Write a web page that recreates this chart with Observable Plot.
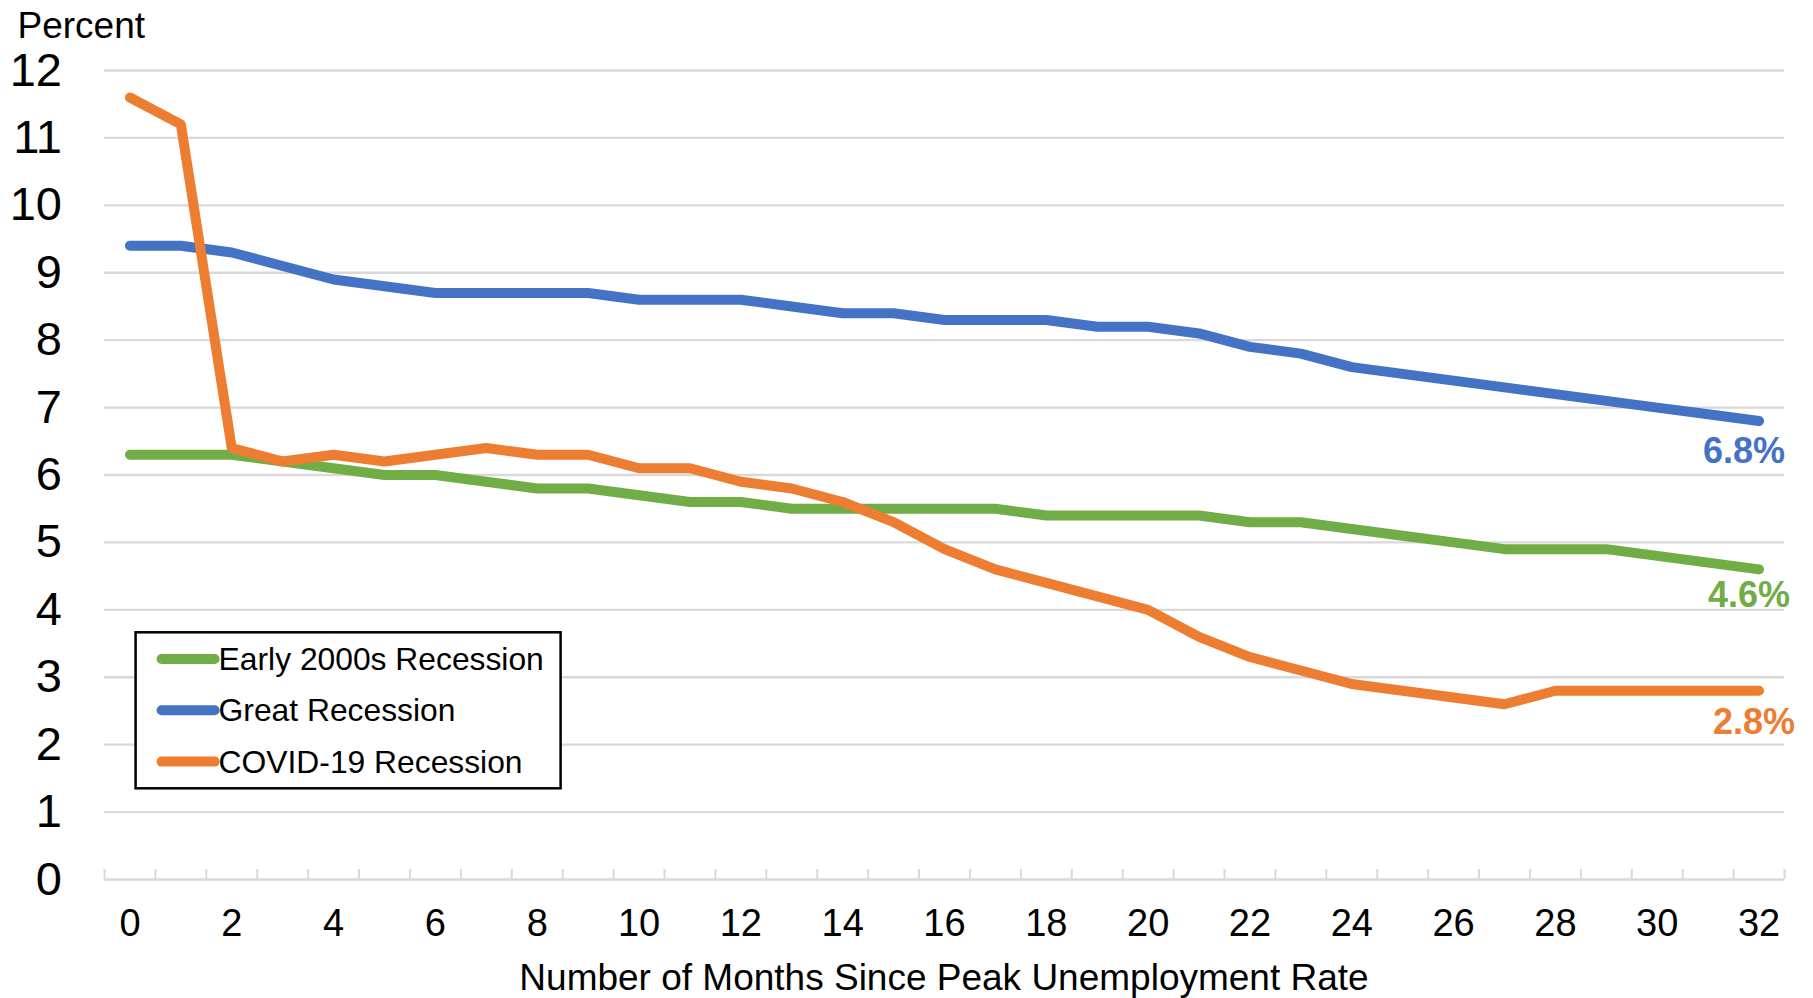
<!DOCTYPE html>
<html><head><meta charset="utf-8">
<script src="https://cdn.jsdelivr.net/npm/d3@7"></script>
<script src="https://cdn.jsdelivr.net/npm/@observablehq/plot@0.6"></script>
<style>
html,body{margin:0;padding:0;background:#fff;}
#wrap{position:relative;width:1813px;height:998px;}
</style></head><body><div id="wrap"></div>
<script>
// ---- data ----
const months = [0,1,2,3,4,5,6,7,8,9,10,11,12,13,14,15,16,17,18,19,20,21,22,23,24,25,26,27,28,29,30,31,32];
const early2000s = [6.3,6.3,6.3,6.2,6.1,6.0,6.0,5.9,5.8,5.8,5.7,5.6,5.6,5.5,5.5,5.5,5.5,5.5,5.4,5.4,5.4,5.4,5.3,5.3,5.2,5.1,5.0,4.9,4.9,4.9,4.8,4.7,4.6];
const greatRecession = [9.4,9.4,9.3,9.1,8.9,8.8,8.7,8.7,8.7,8.7,8.6,8.6,8.6,8.5,8.4,8.4,8.3,8.3,8.3,8.2,8.2,8.1,7.9,7.8,7.6,7.5,7.4,7.3,7.2,7.1,7.0,6.9,6.8];
const covid19 = [11.6,11.2,6.4,6.2,6.3,6.2,6.3,6.4,6.3,6.3,6.1,6.1,5.9,5.8,5.6,5.3,4.9,4.6,4.4,4.2,4.0,3.6,3.3,3.1,2.9,2.8,2.7,2.6,2.8,2.8,2.8,2.8,2.8];
const seriesNames = ["Early 2000s Recession","Great Recession","COVID-19 Recession"];
const seriesColors = ["#70AD47","#4472C4","#ED7D31"];
const endLabels = ["4.6%","6.8%","2.8%"];
const yTicks = [0,1,2,3,4,5,6,7,8,9,10,11,12];
const xTicks = [0,2,4,6,8,10,12,14,16,18,20,22,24,26,28,30,32];
const yTitle = "Percent";
const xTitle = "Number of Months Since Peak Unemployment Rate";

// ---- build table ----
const seriesValues = [early2000s, greatRecession, covid19];
const rows = seriesNames.flatMap((s, i) => months.map((m, j) => ({series: s, month: m, value: seriesValues[i][j]})));
const boundaries = months.map(m => m - 0.5).concat([months[months.length - 1] + 0.5]);
const lastRows = seriesNames.map((s, i) => ({series: s, month: months[months.length - 1], value: seriesValues[i][months.length - 1], label: endLabels[i]}));

// ---- styling ----
const FONT = "Liberation Sans, Arial, sans-serif";
const labelOffsets = [{dx: 31, dy: 26}, {dx: 26, dy: 30}, {dx: 36, dy: 32}];
const W = 1813, H = 998;
const M = {left: 104, right: 29, top: 70, bottom: 119};

const chart = Plot.plot({
  width: W, height: H,
  marginLeft: M.left, marginRight: M.right, marginTop: M.top, marginBottom: M.bottom,
  x: {domain: [boundaries[0], boundaries[boundaries.length - 1]]},
  y: {domain: [yTicks[0], yTicks[yTicks.length - 1]]},
  color: {domain: seriesNames, range: seriesColors},
  style: {fontFamily: FONT, background: "#fff", color: "#000"},
  marks: [
    Plot.gridY(yTicks.slice(1), {stroke: "#d9d9d9", strokeOpacity: 1, strokeWidth: 2.3}),
    Plot.ruleY([0], {stroke: "#d9d9d9", strokeWidth: 2.5}),
    Plot.ruleX(boundaries, {x: d => d, y1: 0, y2: 0.15, stroke: "#d9d9d9", strokeWidth: 2}),
    Plot.axisY({ticks: yTicks, tickSize: 0, tickPadding: 42.5, fontSize: 47, tickFormat: d => String(d), label: null}),
    Plot.axisX({ticks: xTicks, tickSize: 0, tickPadding: 30, fontSize: 38, tickFormat: d => String(d), label: null}),
    Plot.line(rows, {x: "month", y: "value", stroke: "series", strokeWidth: 10, strokeLinecap: "round", strokeLinejoin: "round"}),
    ...lastRows.map((r, i) => Plot.text([r], {x: "month", y: "value", text: "label", fill: seriesColors[i], fontSize: 36, fontWeight: "bold", textAnchor: "end", dx: labelOffsets[i].dx, dy: labelOffsets[i].dy}))
  ]
});

document.getElementById("wrap").appendChild(chart);
const svg = d3.select(chart);

// titles
svg.append("text").attr("x", 17.5).attr("y", 38.2).attr("text-anchor", "start").attr("font-size", 37).attr("font-family", FONT).attr("fill", "#000").text(yTitle);
svg.append("text").attr("x", (M.left + W - M.right) / 2).attr("y", 989.5).attr("text-anchor", "middle").attr("font-size", 37).attr("font-family", FONT).attr("fill", "#000").text(xTitle);

// legend
const lg = svg.append("g").attr("transform", "translate(135.6,632.3)");
lg.append("rect").attr("width", 425).attr("height", 156).attr("fill", "#fff").attr("stroke", "#000").attr("stroke-width", 2.5);
seriesNames.forEach((s, i) => {
  const cy = 26.7 + i * 51.3;
  lg.append("line").attr("x1", 26).attr("x2", 79).attr("y1", cy).attr("y2", cy).attr("stroke", seriesColors[i]).attr("stroke-width", 10).attr("stroke-linecap", "round");
  lg.append("text").attr("x", 83).attr("y", cy).attr("dy", "0.35em").attr("text-anchor", "start").attr("font-size", 31.8).attr("font-family", FONT).attr("fill", "#000").text(s);
});
</script>
</body></html>
